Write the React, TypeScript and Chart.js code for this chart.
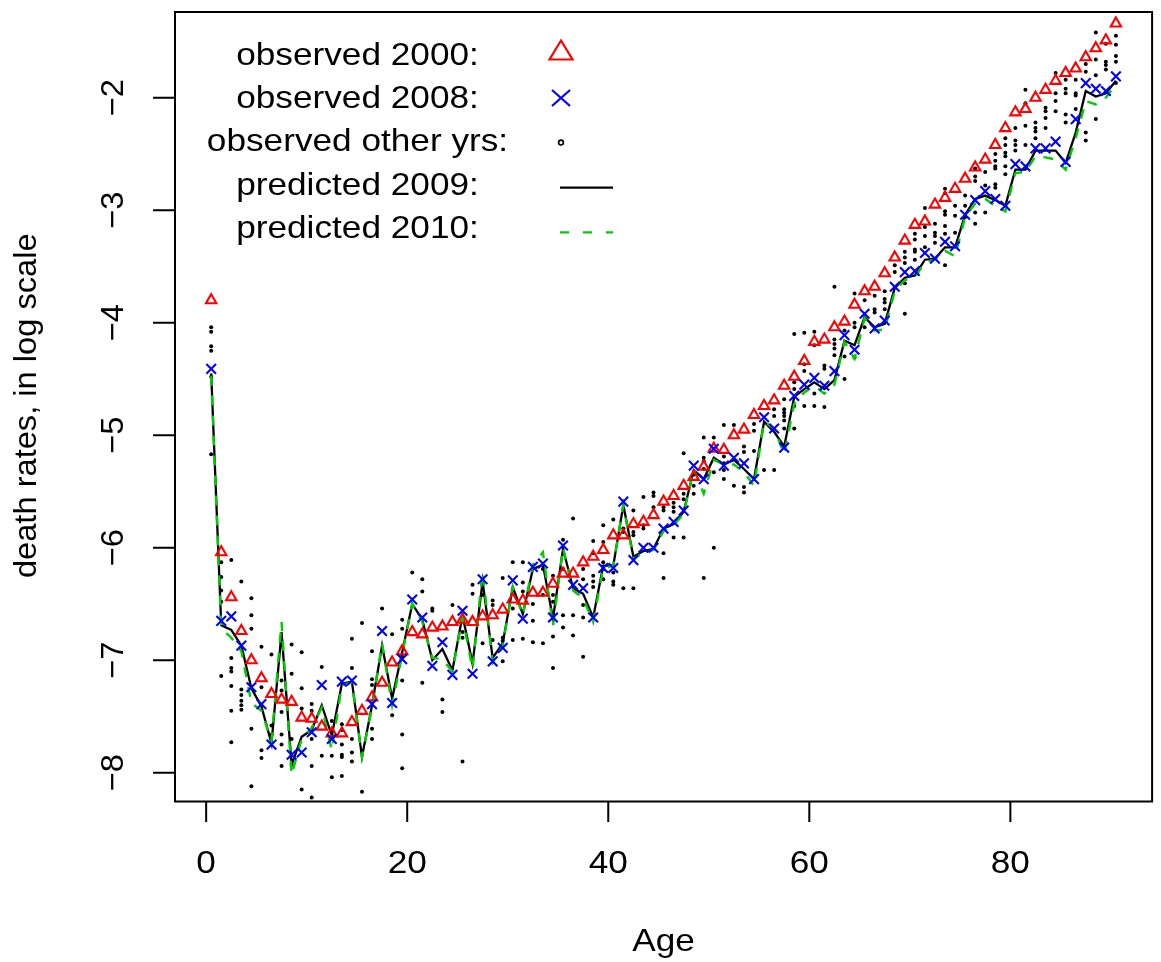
import React, { useEffect, useRef } from "react";
import { Chart, registerables } from "chart.js";

Chart.register(...registerables);

// ---------------- DATA ----------------
const ages = [
  0, 1, 2, 3, 4, 5, 6, 7, 8, 9, 10, 11, 12, 13, 14, 15, 16, 17, 18, 19, 20,
  21, 22, 23, 24, 25, 26, 27, 28, 29, 30, 31, 32, 33, 34, 35, 36, 37, 38, 39, 40,
  41, 42, 43, 44, 45, 46, 47, 48, 49, 50, 51, 52, 53, 54, 55, 56, 57, 58, 59, 60,
  61, 62, 63, 64, 65, 66, 67, 68, 69, 70, 71, 72, 73, 74, 75, 76, 77, 78, 79, 80,
  81, 82, 83, 84, 85, 86, 87, 88, 89, 90,
];
const ageMid = 0.5; // plotted at mid-point of each age interval

const obs2000 = [
  -3.8, -6.04, -6.44, -6.74, -7.0, -7.16, -7.3, -7.35, -7.37, -7.51,
  -7.52, -7.59, -7.65, -7.65, -7.55, -7.45, -7.33, -7.2, -7.02, -6.92,
  -6.75, -6.77, -6.71, -6.7, -6.66, -6.64, -6.66, -6.61, -6.6, -6.55,
  -6.46, -6.47, -6.4, -6.4, -6.32, -6.23, -6.23, -6.13, -6.08, -6.02,
  -5.89, -5.89, -5.79, -5.77, -5.71, -5.59, -5.54, -5.45, -5.37, -5.28,
  -5.12, -5.13, -5.0, -4.95, -4.82, -4.74, -4.69, -4.56, -4.48, -4.34,
  -4.17, -4.15, -4.04, -3.99, -3.84, -3.72, -3.68, -3.56, -3.42, -3.27,
  -3.13, -3.1, -2.95, -2.89, -2.81, -2.72, -2.62, -2.55, -2.42, -2.27,
  -2.13, -2.1, -2.0, -1.93, -1.85, -1.78, -1.74, -1.64, -1.56, -1.49,
  -1.34,
];

const obs2008: (number | null)[] = [
  -4.41, -6.65, -6.61, -6.87, -7.24, -7.39, -7.75, null, -7.84, -7.82,
  -7.64, -7.22, -7.7, -7.19, -7.18, null, -7.39, -6.74, -7.38, -6.99,
  -6.46, -6.62, -7.05, -6.84, -7.13, -6.56, -7.12, -6.28, -7.01, -6.89,
  -6.29, -6.63, -6.17, -6.14, -6.62, -5.98, -6.33, -6.36, -6.62, -6.18,
  -6.18, -5.59, -6.11, -6.0, -6.0, -5.83, -5.77, -5.67, -5.27, -5.39,
  -5.12, -5.27, -5.2, -5.25, -5.39, -4.84, -4.94, -5.11, -4.65, -4.55,
  -4.49, -4.56, -4.43, -4.11, -4.24, -3.92, -4.05, -3.98, -3.68, -3.55,
  -3.54, -3.38, -3.43, -3.28, -3.32, -3.04, -2.91, -2.83, -2.9, -2.96,
  -2.59, -2.61, -2.45, -2.45, -2.39, -2.57, -2.19, -1.87, -1.92, -1.94,
  -1.81,
];

const pred2009 = [
  -4.45, -6.69, -6.73, -6.87, -7.25, -7.41, -7.74, -6.75, -7.93, -7.68,
  -7.62, -7.4, -7.67, -7.21, -7.19, -7.86, -7.4, -6.87, -7.34, -6.93,
  -6.5, -6.64, -7.0, -6.9, -7.09, -6.6, -7.03, -6.3, -6.98, -6.85,
  -6.35, -6.59, -6.19, -6.15, -6.63, -6.01, -6.36, -6.41, -6.62, -6.16,
  -6.16, -5.62, -6.08, -6.03, -6.01, -5.83, -5.79, -5.68, -5.31, -5.39,
  -5.2, -5.26, -5.22, -5.3, -5.39, -4.88, -4.97, -5.1, -4.66, -4.59,
  -4.53, -4.59, -4.51, -4.16, -4.2, -3.95, -4.04, -4.01, -3.69, -3.6,
  -3.58, -3.44, -3.43, -3.33, -3.33, -3.04, -2.9, -2.87, -2.91, -2.96,
  -2.64, -2.64, -2.47, -2.47, -2.47, -2.58, -2.31, -1.94, -1.99, -1.96,
  -1.85,
];

const pred2010 = [
  -4.47, -6.72, -6.8, -6.92, -7.38, -7.45, -7.72, -6.66, -8.02, -7.7,
  -7.6, -7.42, -7.8, -7.22, -7.2, -7.86, -7.42, -6.85, -7.4, -6.95,
  -6.5, -6.66, -6.98, -6.99, -7.1, -6.62, -7.08, -6.21, -7.02, -6.87,
  -6.35, -6.6, -6.15, -6.04, -6.7, -6.0, -6.38, -6.45, -6.66, -6.18,
  -6.16, -5.62, -6.1, -6.04, -6.02, -5.85, -5.8, -5.7, -5.3, -5.52,
  -5.22, -5.26, -5.26, -5.33, -5.45, -4.88, -4.94, -5.17, -4.72, -4.62,
  -4.56, -4.63, -4.55, -4.17, -4.32, -3.96, -4.07, -4.06, -3.72, -3.62,
  -3.6, -3.46, -3.44, -3.36, -3.41, -3.06, -2.94, -2.9, -2.96, -3.01,
  -2.67, -2.66, -2.52, -2.53, -2.55, -2.64, -2.36, -2.03, -2.06, -2.0,
  -1.88,
];

// observed values of the other years (2001-2007), listed per age
const obsOtherYears: number[][] = [
  [-4.04, -4.08, -4.21, -4.25, -4.48, -5.17],
  [-6.13, -6.26, -6.38, -6.48, -7.14],
  [-6.11, -6.98, -7.07, -7.1, -7.23, -7.45, -7.73],
  [-6.3, -7.26, -7.31, -7.36, -7.4, -7.44],
  [-6.45, -6.6, -6.72, -7.61, -8.12],
  [-6.88, -7.24, -7.8, -7.87],
  [-6.95, -7.58, -7.66],
  [-6.84, -7.18, -7.27, -7.46, -7.66, -7.75, -7.94],
  [-6.86, -7.12, -7.7, -7.93],
  [-6.93, -7.25, -7.43, -8.15],
  [-7.39, -7.45, -7.7, -7.94, -8.22],
  [-7.06, -7.85],
  [-7.54, -7.62, -7.85, -8.04],
  [-7.57, -7.62, -7.75, -7.84, -7.86, -8.03],
  [-6.81, -7.07, -7.7, -7.82, -7.9],
  [-6.67, -8.17],
  [-6.92, -7.17, -7.22, -7.61, -7.7],
  [-6.54],
  [-6.77, -7.49],
  [-6.64, -6.72, -6.97, -7.18, -7.66, -7.96],
  [-6.22],
  [-6.28, -6.39, -7.2],
  [-6.54, -6.56],
  [-7.35, -7.46],
  [-6.51],
  [-6.75, -6.8, -7.9],
  [-6.33, -6.41],
  [-6.42, -6.85],
  [-6.47, -6.51, -6.82],
  [-6.27, -6.8, -6.83, -7.01],
  [-6.13, -6.38, -6.54, -6.82],
  [-6.13, -6.31, -6.39, -6.81],
  [-6.5, -6.65, -6.84],
  [-6.19, -6.42, -6.85],
  [-6.25, -6.42, -6.48, -6.79, -7.07],
  [-5.93, -6.19, -6.6, -6.71],
  [-5.74, -6.6, -6.78],
  [-6.19, -6.28, -6.51, -6.62, -6.97],
  [-5.94, -6.05, -6.25, -6.3, -6.35],
  [-5.8, -5.95, -6.13, -6.19, -6.28],
  [-5.75, -6.22, -6.3, -6.33],
  [-5.83, -5.86, -6.36],
  [-5.67, -5.86, -5.89, -6.36],
  [-5.55, -5.8, -5.83],
  [-5.51, -5.54, -5.64],
  [-5.64, -5.67, -6.05, -6.27],
  [-5.6, -5.64, -5.68, -5.91],
  [-5.16, -5.52, -5.57, -5.91],
  [-5.35, -5.45, -5.52],
  [-5.02, -5.2, -5.23, -5.3, -6.27],
  [-5.02, -5.33, -6.0],
  [-4.91, -5.19, -5.25, -5.31, -5.39],
  [-4.91, -5.45],
  [-5.1, -5.15, -5.46, -5.51],
  [-4.9, -4.96, -5.14],
  [-5.31],
  [-4.77, -4.83, -5.31],
  [-4.68, -4.77, -4.8, -4.83, -4.87, -4.94],
  [-4.1, -4.53, -4.59, -4.74, -4.94],
  [-4.09, -4.37, -4.43, -4.74],
  [-4.08, -4.2, -4.63, -4.74],
  [-4.38, -4.41, -4.75],
  [-3.68, -4.15, -4.19, -4.23, -4.29],
  [-4.07, -4.3, -4.5],
  [-3.74, -4.0, -4.04, -4.31],
  [-3.8, -4.04],
  [-3.76, -3.88, -3.91],
  [-3.72, -3.79, -3.82, -3.88],
  [-3.49, -3.55],
  [-3.37, -3.42, -3.47, -3.65, -3.92],
  [-3.21, -3.26, -3.35, -3.37, -3.44],
  [-2.98, -3.15, -3.23, -3.33],
  [-3.12, -3.2, -3.23, -3.29],
  [-2.81, -2.85, -3.01, -3.04, -3.14, -3.21, -3.49],
  [-2.96, -3.05, -3.2],
  [-2.87, -2.96, -3.06],
  [-2.63, -2.7, -2.74, -3.02, -3.12],
  [-2.66, -2.78, -3.02],
  [-2.5, -2.56, -2.61, -2.63, -2.77, -2.8],
  [-2.36, -2.42, -2.49, -2.52, -2.61, -2.68],
  [-2.27, -2.38, -2.42, -2.47],
  [-1.93, -2.05, -2.25, -2.42],
  [-2.22, -2.27, -2.3, -2.36],
  [-2.09, -2.12, -2.18, -2.27],
  [-1.78, -1.96, -2.03, -2.12],
  [-1.84, -1.92, -1.96, -2.15, -2.22],
  [-1.84, -1.96, -1.98, -2.1],
  [-1.7, -1.77, -2.31, -2.38],
  [-1.42, -1.66, -1.8, -2.19],
  [-1.52, -1.68, -1.71, -1.75],
  [-1.45, -1.53, -1.63, -1.68, -1.87],
];

const xTicks = [0, 20, 40, 60, 80];
const yTicks = [-8, -7, -6, -5, -4, -3, -2];
const xTitle = "Age";
const yTitle = "death rates, in log scale";
const legendLabels = [
  "observed 2000:",
  "observed 2008:",
  "observed other yrs:",
  "predicted 2009:",
  "predicted 2010:",
];

// ---------------- STYLE ----------------
const FONT = '32px "Liberation Sans", Arial, sans-serif';
const SX_H = 1.1; // horizontal text widening
const SX_V = 1.02; // vertical text widening
const RED = "#FF0000";
const BLUE = "#0000FF";
const GREEN = "#00CD00";

const fmt = (v: number) => (v < 0 ? "\u2212" + Math.abs(v) : String(v));

function drawText(
  ctx: CanvasRenderingContext2D,
  text: string,
  x: number,
  y: number,
  align: CanvasTextAlign,
  rotate: boolean,
  sx: number
) {
  ctx.save();
  ctx.translate(x, y);
  if (rotate) ctx.rotate(-Math.PI / 2);
  ctx.scale(sx, 1);
  ctx.font = FONT;
  ctx.fillStyle = "#000";
  ctx.textAlign = align;
  ctx.textBaseline = "alphabetic";
  ctx.fillText(text, 0, 0);
  ctx.restore();
}

const rPlotPlugin = {
  id: "rPlot",
  afterDraw(chart: any) {
    const ctx: CanvasRenderingContext2D = chart.ctx;
    const area = chart.chartArea;
    const xs = chart.scales.x;
    const ys = chart.scales.y;
    ctx.save();
    // box
    ctx.strokeStyle = "#000";
    ctx.lineWidth = 2;
    ctx.strokeRect(area.left, area.top, area.right - area.left, area.bottom - area.top);

    // x axis
    ctx.beginPath();
    xTicks.forEach((v) => {
      const px = xs.getPixelForValue(v);
      ctx.moveTo(px, area.bottom);
      ctx.lineTo(px, area.bottom + 20.5);
    });
    ctx.stroke();
    xTicks.forEach((v) => {
      const px = xs.getPixelForValue(v);
      drawText(ctx, fmt(v), px, area.bottom + 71.5, "center", false, SX_H);
    });

    // y axis
    ctx.beginPath();
    yTicks.forEach((v) => {
      const py = ys.getPixelForValue(v);
      ctx.moveTo(area.left, py);
      ctx.lineTo(area.left - 22, py);
    });
    ctx.stroke();
    yTicks.forEach((v) => {
      const py = ys.getPixelForValue(v);
      drawText(ctx, fmt(v), area.left - 52, py, "center", true, SX_V);
    });

    // titles
    drawText(ctx, xTitle, (area.left + area.right) / 2, area.bottom + 149, "center", false, SX_H);
    drawText(ctx, yTitle, 36, (area.top + area.bottom) / 2 - 1, "center", true, SX_V);

    // legend
    const textX = 357.5;
    const baselines = [65, 108.3, 150.5, 194.5, 237.8];
    legendLabels.forEach((t, i) => drawText(ctx, t, textX, baselines[i], "center", false, SX_H));
    const symX = 561;
    // triangle
    ctx.strokeStyle = RED;
    ctx.lineWidth = 2.2;
    ctx.beginPath();
    ctx.moveTo(symX, 40.5);
    ctx.lineTo(symX + 11.5, 59.5);
    ctx.lineTo(symX - 11.5, 59.5);
    ctx.closePath();
    ctx.stroke();
    // cross
    ctx.strokeStyle = BLUE;
    ctx.beginPath();
    ctx.moveTo(symX - 9, 90);
    ctx.lineTo(symX + 9, 106);
    ctx.moveTo(symX + 9, 90);
    ctx.lineTo(symX - 9, 106);
    ctx.stroke();
    // small circle
    ctx.strokeStyle = "#000";
    ctx.lineWidth = 1.6;
    ctx.beginPath();
    ctx.arc(symX, 142.5, 2.4, 0, Math.PI * 2);
    ctx.stroke();
    // solid line
    ctx.lineWidth = 2.2;
    ctx.beginPath();
    ctx.moveTo(560, 187.7);
    ctx.lineTo(613, 187.7);
    ctx.stroke();
    // dashed line
    ctx.strokeStyle = GREEN;
    ctx.setLineDash([9, 14]);
    ctx.beginPath();
    ctx.moveTo(560, 232.3);
    ctx.lineTo(613, 232.3);
    ctx.stroke();
    ctx.setLineDash([]);
    ctx.restore();
  },
};

export default function App() {
  const canvasRef = useRef<HTMLCanvasElement | null>(null);

  useEffect(() => {
    if (!canvasRef.current) return;
    const otherPts: { x: number; y: number }[] = [];
    obsOtherYears.forEach((vals, i) =>
      vals.forEach((v) => otherPts.push({ x: ages[i] + ageMid, y: v }))
    );
    const pts = (arr: (number | null)[]) =>
      arr
        .map((v, i) => (v === null ? null : { x: ages[i] + ageMid, y: v }))
        .filter((p) => p !== null) as { x: number; y: number }[];

    const chart = new Chart(canvasRef.current, {
      type: "scatter",
      data: {
        datasets: [
          {
            label: "observed 2008",
            data: pts(obs2008),
            pointStyle: "crossRot",
            pointRadius: 6.8,
            pointBorderWidth: 2.1,
            borderColor: BLUE,
            backgroundColor: BLUE,
            order: 1,
          },
          {
            label: "observed 2000",
            data: pts(obs2000),
            pointStyle: "triangle",
            pointRadius: 6,
            pointBorderWidth: 2.1,
            borderColor: RED,
            backgroundColor: "rgba(0,0,0,0)",
            order: 2,
          },
          {
            label: "predicted 2010",
            data: pts(pred2010),
            showLine: true,
            pointRadius: 0,
            borderColor: GREEN,
            borderWidth: 2.4,
            borderDash: [10, 10],
            tension: 0,
            order: 3,
          },
          {
            label: "predicted 2009",
            data: pts(pred2009),
            showLine: true,
            pointRadius: 0,
            borderColor: "#000000",
            borderWidth: 2.3,
            tension: 0,
            order: 4,
          },
          {
            label: "observed other yrs",
            data: otherPts,
            pointStyle: "circle",
            pointRadius: 2,
            pointBorderWidth: 0,
            borderColor: "#000000",
            backgroundColor: "#000000",
            order: 5,
          },
        ],
      },
      options: {
        animation: false,
        responsive: true,
        maintainAspectRatio: false,
        devicePixelRatio: 1,
        layout: { padding: { left: 175, top: 12, right: 2, bottom: 160.5 } },
        plugins: {
          legend: { display: false },
          tooltip: { enabled: false },
          title: { display: false },
        },
        events: [],
        scales: {
          x: { type: "linear", min: -3.1, max: 94.1, display: false },
          y: { type: "linear", min: -8.256, max: -1.238, display: false },
        },
      },
      plugins: [rPlotPlugin],
    });
    return () => chart.destroy();
  }, []);

  return (
    <div
      style={{
        position: "fixed",
        left: 0,
        top: 0,
        width: 1161,
        height: 962,
        background: "#fff",
      }}
    >
      <canvas ref={canvasRef} />
    </div>
  );
}
